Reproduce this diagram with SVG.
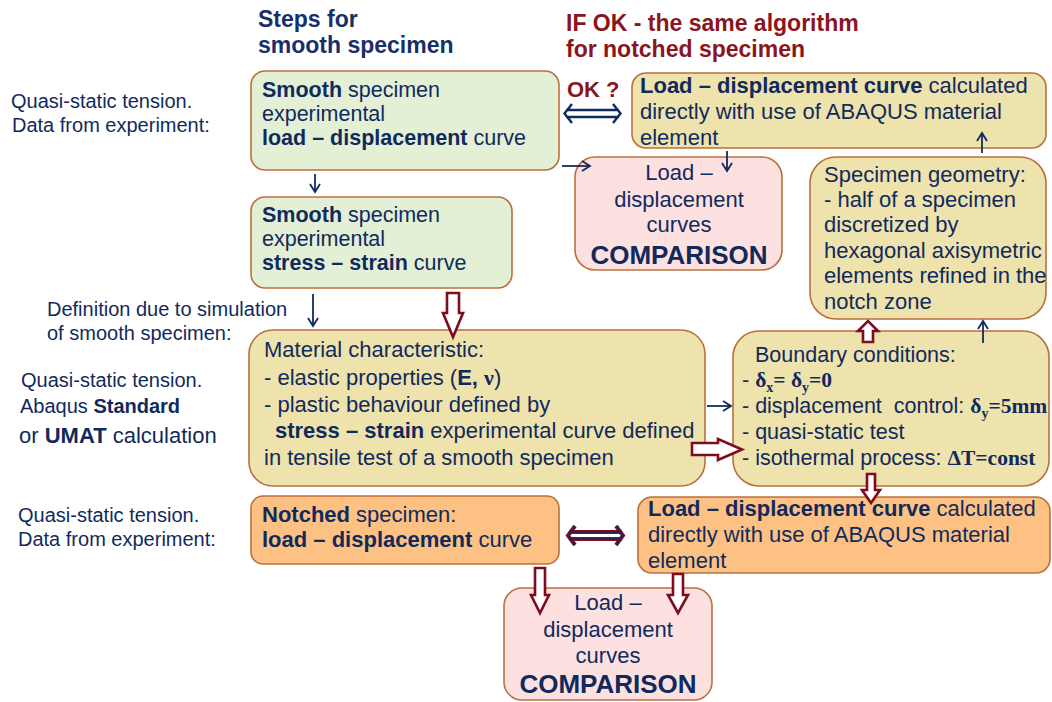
<svg xmlns="http://www.w3.org/2000/svg" width="1052" height="702" viewBox="0 0 1052 702">
<style>
text{font-family:"Liberation Sans",Arial,sans-serif;fill:#112a5c}
.t{font-size:22px}
.s{font-size:21.5px}
.l{font-size:20px}
.h{font-size:23px;font-weight:bold;fill:#17306b}
.r{font-size:23px;font-weight:bold;fill:#8a1520}
.b{font-weight:bold}
.c{font-size:22px;text-anchor:middle}
.cmp{font-size:26px;font-weight:bold}
.g{font-size:21.5px}
.tm{font-family:"Liberation Serif","Times New Roman",serif;font-weight:bold}
.box{stroke:#b8703f;stroke-width:1.6}
.green{fill:#e3f0d5}
.tan{fill:#eee2ad}
.pink{fill:#fde1e1}
.orange{fill:#fdc183}
.nav{stroke:#112a5c;stroke-width:1.8;fill:none}
.hol{fill:#fff;stroke:#7d0c1f;stroke-width:2.6;stroke-linejoin:miter}
.dbl{fill:none;stroke:#112a5c;stroke-width:2.4}
.dblr{fill:none;stroke:#8a0f22;stroke-width:4}
.dbln{fill:none;stroke:#112a5c;stroke-width:1.4}
</style>
<defs>
<marker id="ah" markerUnits="userSpaceOnUse" markerWidth="12" markerHeight="12" refX="9" refY="6" orient="auto">
<path d="M1,1 L9,6 L1,11" fill="none" stroke="#112a5c" stroke-width="1.8"/>
</marker>
</defs>

<g id="labels">
<text class="h" x="258" y="27">Steps for</text>
<text class="h" x="258" y="53">smooth specimen</text>
<text class="r" x="566" y="31">IF OK - the same algorithm</text>
<text class="r" x="566" y="57">for notched specimen</text>
<text class="l" x="11" y="108">Quasi-static tension.</text>
<text class="l" x="12" y="132">Data from experiment:</text>
<text class="l" x="47" y="316">Definition due to simulation</text>
<text class="l" x="47" y="340">of smooth specimen:</text>
<text class="l" x="21" y="387">Quasi-static tension.</text>
<text class="l" x="20" y="413">Abaqus <tspan class="b">Standard</tspan></text>
<text class="t" x="19" y="443">or <tspan class="b">UMAT</tspan> calculation</text>
<text class="l" x="18" y="522">Quasi-static tension.</text>
<text class="l" x="18" y="546">Data from experiment:</text>
<text class="r" x="567" y="97" style="font-size:22px">OK ?</text>
</g>

<g id="nodeA">
<rect class="box green" x="251" y="71" width="308" height="99" rx="14"/>
<text class="s" x="262" y="97"><tspan class="b">Smooth</tspan> specimen</text>
<text class="s" x="262" y="121">experimental</text>
<text class="s" x="262" y="145"><tspan class="b">load – displacement</tspan> curve</text>
</g>

<g id="nodeE">
<rect class="box green" x="251" y="197" width="261" height="91" rx="14"/>
<text class="s" x="262" y="222"><tspan class="b">Smooth</tspan> specimen</text>
<text class="s" x="262" y="246">experimental</text>
<text class="s" x="262" y="270"><tspan class="b">stress – strain</tspan> curve</text>
</g>

<g id="nodeB">
<rect class="box tan" x="632" y="73" width="414" height="75" rx="14"/>
<text class="t" x="640" y="93"><tspan class="b">Load – displacement curve</tspan> calculated</text>
<text class="t" x="640" y="119">directly with use of ABAQUS material</text>
<text class="t" x="640" y="145">element</text>
</g>

<g id="nodeC">
<rect class="box pink" x="575" y="157" width="207" height="113" rx="20"/>
<text class="c" x="679" y="180">Load –</text>
<text class="c" x="679" y="207">displacement</text>
<text class="c" x="679" y="232">curves</text>
<text class="c cmp" x="679" y="264">COMPARISON</text>
</g>

<g id="nodeD">
<rect class="box tan" x="810" y="157" width="236" height="162" rx="26"/>
<text class="t" x="824" y="182">Specimen geometry:</text>
<text class="t" x="824" y="207">- half of a specimen</text>
<text class="t" x="824" y="232">discretized by</text>
<text class="t" x="824" y="258">hexagonal axisymetric</text>
<text class="t" x="824" y="283">elements refined in the</text>
<text class="t" x="824" y="309">notch zone</text>
</g>

<g id="nodeF">
<rect class="box tan" x="249" y="330" width="456" height="156" rx="24"/>
<text class="t" x="264" y="357">Material characteristic:</text>
<text class="t" x="264" y="385">- elastic properties (<tspan class="b">E, </tspan><tspan class="tm">ν</tspan>)</text>
<text class="t" x="264" y="412">- plastic behaviour defined by</text>
<text class="t" x="275" y="438"><tspan class="b">stress – strain</tspan> experimental curve defined</text>
<text class="t" x="264" y="465">in tensile test of a smooth specimen</text>
</g>

<g id="nodeG">
<rect class="box tan" x="733" y="331" width="316" height="155" rx="26"/>
<text class="g" x="755" y="362">Boundary conditions:</text>
<text class="g" x="742" y="387">- <tspan class="tm">δ</tspan><tspan class="tm" dy="5" font-size="14">x</tspan><tspan class="tm" dy="-5">= δ</tspan><tspan class="tm" dy="5" font-size="14">y</tspan><tspan class="tm" dy="-5">=0</tspan></text>
<text class="g" x="742" y="413">- displacement&#160; control: <tspan class="tm">δ</tspan><tspan class="tm" dy="5" font-size="14">y</tspan><tspan class="tm" dy="-5">=5mm</tspan></text>
<text class="g" x="742" y="439">- quasi-static test</text>
<text class="g" x="742" y="465">- isothermal process: <tspan class="tm">ΔT=const</tspan></text>
</g>

<g id="nodeH">
<rect class="box orange" x="638" y="497" width="412" height="76" rx="14"/>
<text class="t" x="648" y="516"><tspan class="b">Load – displacement curve</tspan> calculated</text>
<text class="t" x="648" y="542">directly with use of ABAQUS material</text>
<text class="t" x="648" y="568">element</text>
</g>

<g id="nodeI">
<rect class="box orange" x="251" y="496" width="308" height="68" rx="12"/>
<text class="t" x="262" y="522"><tspan class="b">Notched</tspan> specimen:</text>
<text class="t" x="262" y="547"><tspan class="b">load – displacement</tspan> curve</text>
</g>

<g id="nodeJ">
<rect class="box pink" x="504" y="588" width="208" height="112" rx="18"/>
<text class="c" x="608" y="610">Load –</text>
<text class="c" x="608" y="637">displacement</text>
<text class="c" x="608" y="663">curves</text>
<text class="c cmp" x="608" y="693">COMPARISON</text>
</g>

<g id="connectors">
<line class="nav" x1="315" y1="174" x2="315" y2="192" marker-end="url(#ah)"/>
<line class="nav" x1="562" y1="166" x2="590" y2="166" marker-end="url(#ah)"/>
<line class="nav" x1="727" y1="151" x2="727" y2="171" marker-end="url(#ah)"/>
<line class="nav" x1="982" y1="153" x2="982" y2="133" marker-end="url(#ah)"/>
<line class="nav" x1="313" y1="294" x2="313" y2="326" marker-end="url(#ah)"/>
<line class="nav" x1="707" y1="406" x2="731" y2="406" marker-end="url(#ah)"/>
<line class="nav" x1="983" y1="343" x2="983" y2="321" marker-end="url(#ah)"/>

<path class="dbl" d="M566,110 H619 M566,117 H619 M572,104 L564.5,113.5 L572,123 M613,104 L620.5,113.5 L613,123"/>

<path class="dblr" d="M569,532 H622 M569,539 H622 M575,526 L568,535.5 L575,545 M616,526 L623,535.5 L616,545"/>
<path class="dbln" d="M569,532 H622 M569,539 H622 M575,526 L568,535.5 L575,545 M616,526 L623,535.5 L616,545"/>

<path class="hol" d="M447,293 H459 V313 H463 L453,337 L443,313 H447 Z"/>
<path class="hol" d="M863,342 H873 V331 H878 L868,321 L858,331 H863 Z"/>
<path class="hol" d="M692,443 V455 H718 V460 L742,449.5 L718,439 V443 Z"/>
<path class="hol" d="M867,474 H875 V490 H880 L871,503 L862,490 H867 Z"/>
<path class="hol" d="M535,568 H545 V595 H549 L540,613 L531,595 H535 Z"/>
<path class="hol" d="M673,574 H683 V595 H688 L678,613 L668,595 H673 Z"/>
</g>
</svg>
